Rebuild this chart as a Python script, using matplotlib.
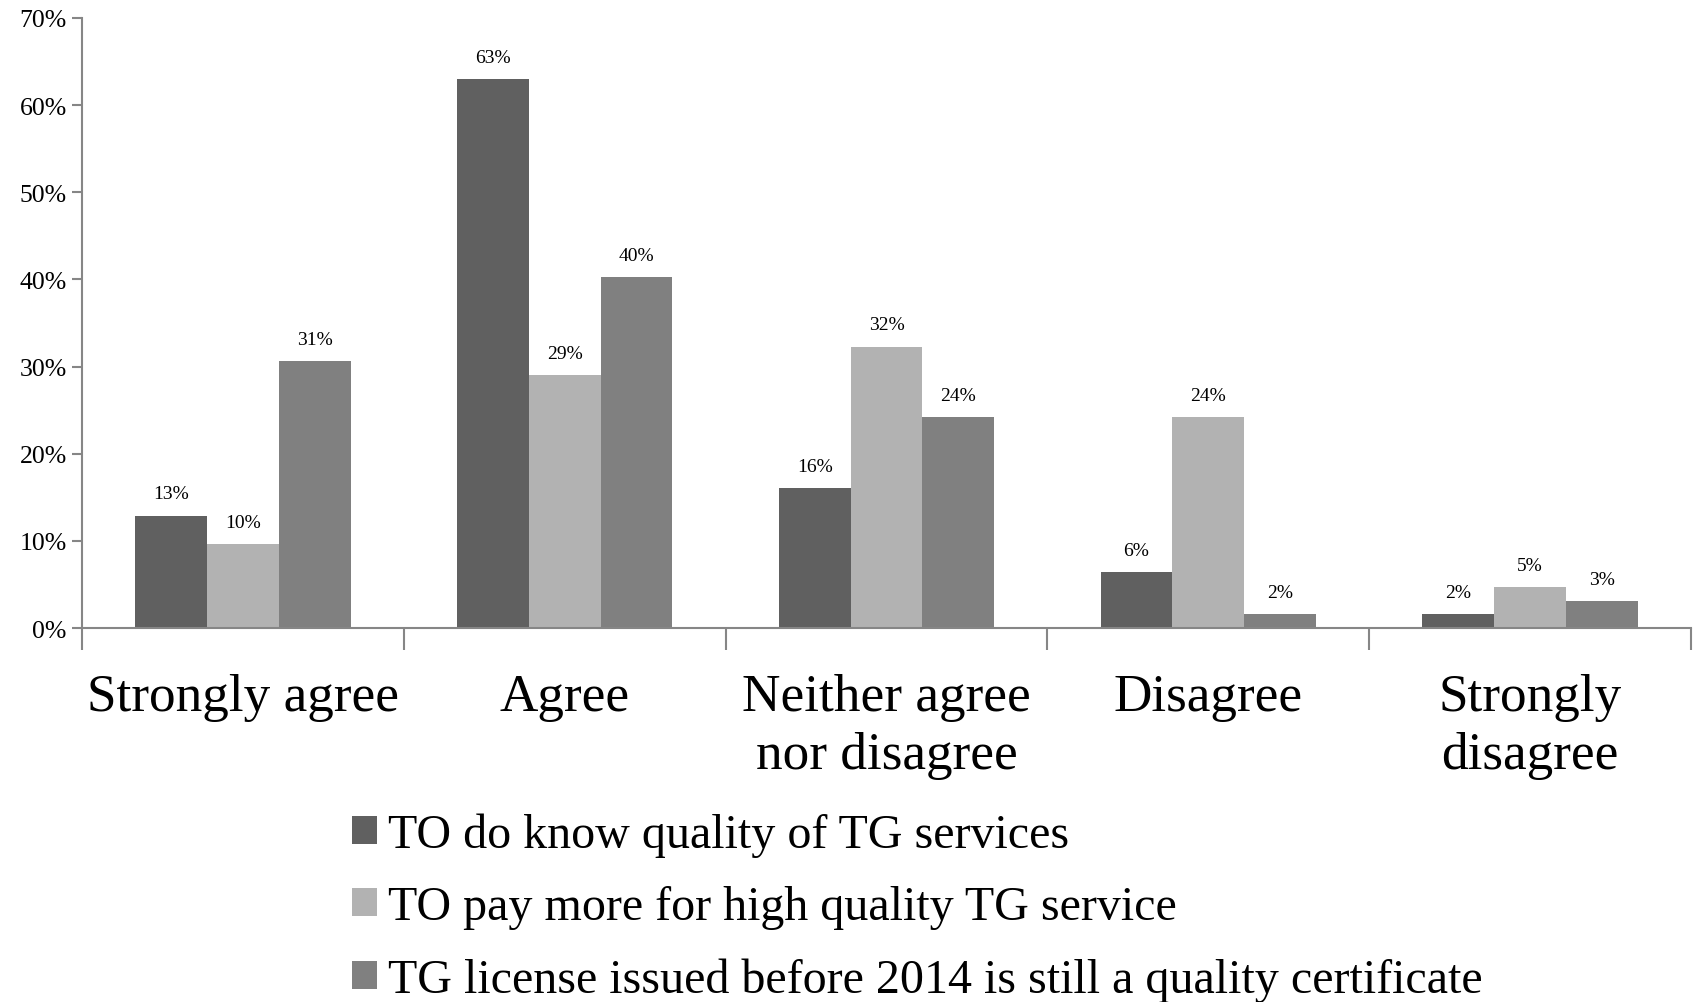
import matplotlib
matplotlib.use("Agg")
import matplotlib.pyplot as plt
import numpy as np
from matplotlib.patches import Patch
from matplotlib.transforms import blended_transform_factory

categories = ["Strongly agree", "Agree", "Neither agree\nnor disagree", "Disagree", "Strongly\ndisagree"]
series_names = [
    "TO do know quality of TG services",
    "TO pay more for high quality TG service",
    "TG license issued before 2014 is still a quality certificate",
]
know_quality = [12.9, 63.0, 16.1, 6.4, 1.6]
pay_more = [9.6, 29.0, 32.3, 24.2, 4.7]
license_cert = [30.6, 40.3, 24.2, 1.6, 3.1]
y_ticks = [0, 10, 20, 30, 40, 50, 60, 70]

series = [know_quality, pay_more, license_cert]
colors = ["#606060", "#b2b2b2", "#808080"]
axis_gray = "#868686"

plt.rcParams["font.family"] = ["Liberation Serif", "DejaVu Serif"]

W, H = 1696, 1003
fig = plt.figure(figsize=(W / 100, H / 100), dpi=100)
ax = fig.add_axes([82 / W, 1 - 629 / H, (1691 - 82) / W, (629 - 19) / H])

n = len(categories)
x = np.arange(n)
bw = 0.223
offsets = [-bw, 0, bw]

for vals, off, col in zip(series, offsets, colors):
    bars = ax.bar(x + off, vals, width=bw, color=col, edgecolor="none", zorder=2)
    for b, v in zip(bars, vals):
        ax.annotate(f"{v:.0f}%", (b.get_x() + b.get_width() / 2, v),
                    xytext=(0, 9.5), textcoords="offset points",
                    ha="center", va="bottom", fontsize=14, color="#000000")

ax.set_xlim(-0.5, n - 0.5)
ax.set_ylim(0, 70)

# y axis
ax.set_yticks(y_ticks)
ax.set_yticklabels([f"{t}%" for t in y_ticks], fontsize=18.5)
ax.tick_params(axis="y", length=7, width=1.5, color=axis_gray, pad=4)

# x axis: boundary ticks without labels
ax.set_xticks(np.arange(n + 1) - 0.5)
ax.set_xticklabels([])
ax.tick_params(axis="x", length=16, width=1.5, color=axis_gray, direction="out")

for s in ["top", "right"]:
    ax.spines[s].set_visible(False)
for s in ["left", "bottom"]:
    ax.spines[s].set_color(axis_gray)
    ax.spines[s].set_linewidth(1.5)

trans = blended_transform_factory(ax.transData, ax.transAxes)
for xi, lab in zip(x, categories):
    ax.text(xi, -0.074, lab, transform=trans, ha="center", va="top",
            fontsize=38.3, linespacing=1.27, color="#000000")

handles = [Patch(facecolor=c, edgecolor="none") for c in colors]
fig.legend(handles, series_names, loc="upper left",
           bbox_to_anchor=(352 / W, 1 - 814 / H), frameon=False,
           fontsize=34.6, handlelength=0.52, handleheight=0.52,
           handletextpad=0.22, labelspacing=0.58, borderpad=0, borderaxespad=0)

fig.savefig("out.png", dpi=100, facecolor="white")
